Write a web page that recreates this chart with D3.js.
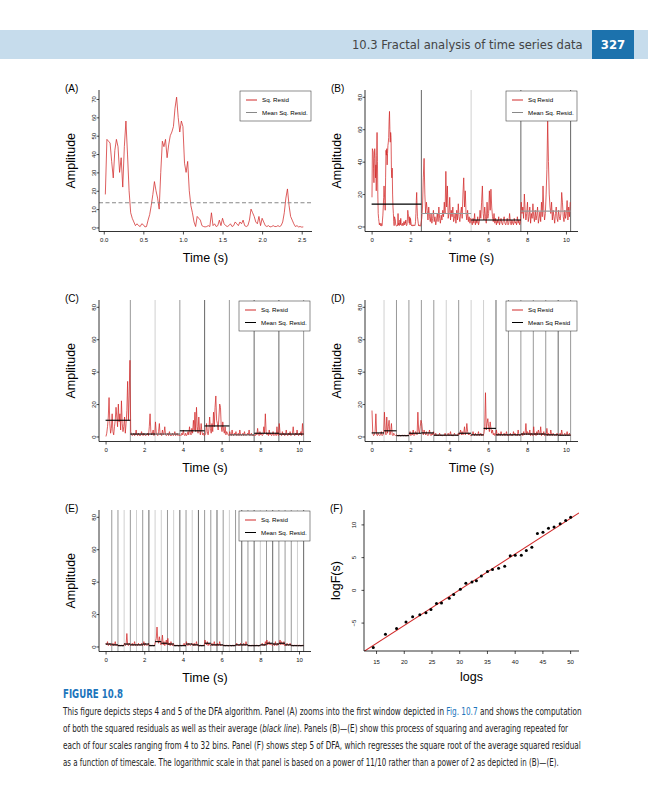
<!DOCTYPE html>
<html>
<head>
<meta charset="utf-8">
<script src="https://cdnjs.cloudflare.com/ajax/libs/d3/7.8.5/d3.min.js"></script>
<style>
  body { margin: 0; background: #fff; }
  svg { display: block; font-family: "Liberation Sans", Arial, sans-serif; }
</style>
</head>
<body>
<div id="page"></div>
<script>
// ---- data ----

// Panel A: squared residuals of the first window, 0.02 s steps from t = 0.02
var residA = [18,48,47,46,36,27,42,48,44,30,38,22,44,58,40,20,8,5,3,1,
  2,1,0.5,2,1.5,0.3,0.5,4,7,12,18,25,20,16,10,30,47,44,48,38,
  45,50,52,55,65,71,60,52,58,55,35,30,36,20,12,8,3,0.5,6,5,
  4,1,0.5,0.3,0.5,1,0.5,8,1,2,0.5,1,4,1,5,2,1,0.5,1,2,
  0.5,1,3,2,1,3,2,4,1,0.5,1,4,10,8,6,3,2,6,1,5,
  3,1,0.5,1,0.3,0.5,1,0.5,0.5,1,0.5,1,3,8,16,21,12,6,4,2,
  0.5,1,0.3,0.5,0.2,0.3];
var meanA = 13.5;

// Panel B: windows 2-4 (window 1 is residA), 0.04 s steps
var residB2 = [5,12,30,42,20,8,15,10,4,12,6,3,8,2,5,10,3,6,1,4,8,3,12,5,2,7,4,10,6,15,8,34,
  12,25,5,8,18,4,10,6,12,3,5,8,2,10,4,14,6,3,8,12,5,20,30,12,22,8,4,10,3,6,2,5];
var residB3 = [3,1,5,2,8,1,4,2,6,1,3,10,5,15,25,8,4,12,6,2,15,5,8,22,10,23,12,6,3,8,2,5,
  1,4,2,6,1,3,5,2,1,4,6,2,1,3,5,1,2,8,3,1,4,2,1,5,2,3,1,6,2,4,1,3];
var residB4 = [15,8,12,5,20,10,4,8,15,3,6,12,2,8,5,14,6,3,10,4,7,12,2,5,9,3,15,6,25,10,4,8,
  20,35,65,40,20,12,8,15,4,10,6,2,8,12,5,3,10,6,4,8,21,15,6,3,10,5,8,16,4,12,6,15];
var meansB = [13.8, 8, 4, 9.5];
var edgeColorsB = ["#666", "#d0d0d0", "#666", "#666"];
var meanColorsB = ["#000", "#999", "#000", "#999"];

// Panel C: 8 bins, 0.04 s steps
var residC = [0,2,6,12,24,8,2,5,14,3,1,6,10,18,12,6,20,9,14,4,22,8,3,6,12,2,8,16,34,10,25,47,
  3,1,0.5,1,2,0.5,1,4,1,0.5,2,1,0.3,1,3,1,0.5,2,1,0.5,1,1,2,0.5,6,14,3,1,2,4,0.5,1,
  9,2,1,0.5,3,8,1,2,0.5,4,1,2,6,1,0.5,1,2,0.5,3,1,0.3,1,2,0.5,1,3,0.5,1,2,0.5,1,0.5,
  1,0.5,2,1,4,1,0.5,2,0.5,1,3,1,6,2,1,5,2,10,4,15,3,18,6,2,12,4,1,8,3,1,2,0.5,
  1,2,8,3,1,4,12,5,2,8,3,15,6,18,25,10,8,4,12,20,18,6,3,9,4,2,6,1,3,2,1,0.5,
  3,1,0.5,4,1,0.5,2,1,3,0.5,1,2,0.5,4,1,0.5,1,2,0.5,3,1,0.5,1,2,1,4,0.5,1,2,0.5,1,0.5,
  1,0.5,2,1,5,1,0.5,3,1,2,0.5,1,6,2,14,3,1,2,0.5,4,1,2,0.5,1,3,0.5,1,2,0.5,6,1,0.5,
  8,2,1,0.5,3,1,2,0.5,1,4,1,0.5,2,1,3,0.5,1,2,6,1,0.5,2,1,4,1,0.5,2,1,3,0.5,8,1];
var meansC = [10, 1.5, 1.5, 3.5, 6.5, 1, 2, 1.5];
var edgeColorsC = ["#999", "#d0d0d0", "#999", "#666", "#999", "#666", "#666", "#999"];
var meanColorsC = ["#000", "#000", "#555", "#000", "#000", "#555", "#000", "#000"];

// Panel D: 16 bins, 0.04 s steps
var residD = [16,2,0.5,1,3,14,1,0.5,2,1,0.5,1,3,0.5,1,2,
  15,4,1,12,2,6,10,1,3,8,1,0.5,2,1,0.5,1,
  1,0.5,0.3,1,0.5,0.3,0.5,1,0.3,0.5,1,0.3,0.5,0.3,1,0.5,
  1,3,0.5,2,1,4,0.5,1,3,2,1,15,4,2,6,10,
  8,3,1,4,2,1,3,1,0.5,2,4,1,0.5,2,1,3,
  1,0.5,2,0.5,1,0.3,1,2,0.5,1,0.3,0.5,1,0.5,2,0.5,
  0.5,1,2,0.5,1,3,0.5,1,0.3,0.5,2,1,0.5,1,0.5,2,
  1,2,4,1,3,1,2,6,1,2,8,3,1,2,1,0.5,
  0.5,1,3,1,0.5,2,1,0.5,1,3,0.5,1,2,0.5,1,0.5,
  2,6,27,4,8,11,6,3,9,5,2,4,1,2,0.5,1,
  4,1,0.5,2,1,0.5,3,1,0.5,1,2,0.5,1,3,0.5,1,
  0.5,1,2,0.5,1,0.5,3,1,2,0.5,1,0.5,4,1,0.5,1,
  1,2,0.5,3,1,2,8,1,3,2,1,4,0.5,2,1,0.5,
  6,1,2,0.5,3,1,4,2,1,6,0.5,2,1,3,0.5,1,
  1,5,0.5,2,1,0.5,4,1,0.5,2,1,0.5,1,0.5,2,1,
  0.5,1,2,0.5,4,1,0.5,1,2,0.5,1,3,0.5,1,2,0.5];
var meansD = [2.2, 3.5, 0.5, 2, 2.2, 0.8, 0.8, 2, 1, 5, 1, 1, 1.5, 1.5, 1, 0.8];
var edgeColorsD = ["#d0d0d0","#999","#999","#999","#999","#d0d0d0","#999","#d0d0d0",
  "#d0d0d0","#666","#999","#999","#999","#999","#666","#999"];

// Panel E: 32 bins, 0.04 s steps
var residE = [2,1,3,0.5,1,2,0.5,1, 1,2,0.5,1,3,0.5,1,0.5, 0.5,1,0.3,0.5,1,0.3,0.5,1, 2,0.5,1,8,1,0.5,2,1,
  0.5,1,2,0.5,1,3,0.5,1, 1,0.5,2,1,0.5,1,2,0.5, 1,3,0.5,2,1,0.5,1,2, 0.5,1,0.3,0.5,1,0.5,0.3,1,
  3,5,12,4,2,6,3,1, 2,7,1,3,0.5,2,4,1, 5,1,2,0.5,3,1,0.5,2, 0.5,1,0.3,0.5,1,0.5,0.3,0.5,
  1,0.5,0.3,1,0.5,2,0.5,0.3, 3,1,0.5,2,1,0.5,1,2, 1,0.5,2,0.5,1,3,0.5,1, 0.5,0.3,1,0.5,0.3,0.5,1,0.5,
  4,2,1,3,0.5,2,1,0.5, 1,2,0.5,1,3,0.5,1,0.5, 2,0.5,1,3,0.5,1,0.5,1, 0.5,1,0.3,0.5,1,0.5,0.3,0.5,
  1,0.5,0.3,0.5,1,0.3,0.5,1, 0.5,2,1,0.5,1,0.5,2,1, 1,0.5,2,1,0.5,3,1,0.5, 0.5,1,0.3,0.5,0.3,1,0.5,0.3,
  1,0.5,0.3,1,0.5,0.3,0.5,1, 0.5,1,2,0.5,1,0.5,3,1, 4,1,2,3,1,2,1,0.5, 1,2,0.5,3,1,0.5,2,1,
  2,4,1,3,2,1,3,0.5, 1,0.5,2,1,0.5,1,2,0.5, 0.5,1,0.3,0.5,1,0.5,0.3,1, 0.5,0.3,1,0.5,0.3,0.5,1,0.5];
var meansE = [1.5,1,0.5,1.5,1,1,1.5,0.5,3,2,1.5,0.5,0.5,1.5,1,0.5,
  2,1,1,0.5,0.5,1,1,0.5,0.5,1,2,1.5,2,1,0.5,0.5];
var edgeColorsE = ["#999","#999","#d0d0d0","#999","#d0d0d0","#999","#666","#d0d0d0",
  "#d0d0d0","#999","#d0d0d0","#666","#999","#d0d0d0","#666","#999",
  "#999","#666","#999","#d0d0d0","#999","#666","#999","#666",
  "#d0d0d0","#999","#666","#999","#999","#999","#d0d0d0","#666"];

// Panel F: log scale vs log fluctuation
var logS = [14.5,16.7,18.7,20.4,21.6,22.9,24.0,24.9,25.9,26.8,28.2,29.0,30.2,31.2,32.3,33.1,34.0,
  35.1,36.0,37.1,38.2,39.2,40.1,41.2,42.1,43.1,44.1,45.1,46.1,47.1,48.2,49.2,50.1];
var logF = [-8.8,-6.8,-5.9,-4.9,-4.1,-3.8,-3.5,-3.0,-2.1,-2.0,-1.3,-0.7,0.1,1.0,1.2,1.4,2.1,
  2.8,3.1,3.3,3.6,5.2,5.3,5.3,6.0,6.5,8.6,8.8,9.4,9.6,10.1,10.6,11.1];

var ticksA = [0, 0.5, 1, 1.5, 2, 2.5];
var ticksAmpA = [0, 10, 20, 30, 40, 50, 60, 70];
var ticksTime = [0, 2, 4, 6, 8, 10];
var ticksAmp = [0, 20, 40, 60, 80];
var ticksLogS = [15, 20, 25, 30, 35, 40, 45, 50];
var ticksLogF = [-5, 0, 5, 10];

var caption = [
  [["This figure depicts steps 4 and 5 of the DFA algorithm. Panel (A) zooms into the first window depicted in ", ""], ["Fig. 10.7", "link"], [" and shows the computation", ""]],
  [["of both the squared residuals as well as their average (", ""], ["black line", "it"], ["). Panels (B)\u2014(E) show this process of squaring and averaging repeated for", ""]],
  [["each of four scales ranging from 4 to 32 bins. Panel (F) shows step 5 of DFA, which regresses the square root of the average squared residual", ""]],
  [["as a function of timescale. The logarithmic scale in that panel is based on a power of 11/10 rather than a power of 2 as depicted in (B)\u2014(E).", ""]]
];
var captionWidths = [520, 506, 519, 496];

// ---- drawing ----
var W = 648, H = 800;
var RED = "#d12a2a";
var NARROW = "'Liberation Sans Narrow', 'DejaVu Sans Condensed', 'Liberation Sans', sans-serif";

var svg = d3.select("#page").append("svg")
  .attr("width", W)
  .attr("height", H);

// squeeze a text horizontally (keeps its height) so it spans the target width
function squeeze(t, x0, y0, target) {
  var w = t.node().getComputedTextLength();
  var k = w > 0 ? target / w : 1;
  t.attr("x", 0).attr("y", 0)
    .attr("transform", "translate(" + x0 + "," + y0 + ") scale(" + k + ",1)");
}

// running header
svg.append("rect").attr("x", 0).attr("y", 30).attr("width", W).attr("height", 29).attr("fill", "#c6dcec");
svg.append("rect").attr("x", 592).attr("y", 30).attr("width", 42).attr("height", 29).attr("fill", "#1c72ad");
var head = svg.append("text")
  .attr("font-family", NARROW)
  .attr("font-size", 13)
  .attr("fill", "#444")
  .text("10.3  Fractal analysis of time series data");
squeeze(head, 352, 49, 231);
svg.append("text")
  .attr("x", 613).attr("y", 49)
  .attr("text-anchor", "middle")
  .attr("font-family", NARROW)
  .attr("font-weight", "bold")
  .attr("font-size", 13)
  .attr("fill", "#fff")
  .text("327");

function makeSeries(vals, t0, step) {
  return vals.map(function(v, i) { return {t: t0 + step * i, v: v}; });
}

function styleAxis(ga, size) {
  ga.attr("font-size", size).attr("font-family", "'Liberation Sans', Arial, sans-serif");
  ga.select(".domain").remove();
  ga.selectAll("line").attr("stroke", "#000").attr("stroke-width", 0.7);
  ga.selectAll("text").attr("fill", "#111");
}

function drawFrame(g, p, x, y, yLabel, xLabel, yOff, xPad) {
  // y axis, labels rotated like base R
  var ya = g.append("g")
    .attr("transform", "translate(" + p.left + ",0)")
    .call(d3.axisLeft(y).tickValues(p.yTicks).tickSize(2.5).tickFormat(p.yFmt || d3.format("")));
  styleAxis(ya, 6);
  ya.selectAll("text")
    .attr("transform", "rotate(-90)")
    .attr("x", 0).attr("y", -yOff).attr("dy", 0)
    .attr("text-anchor", "middle");

  var xa = g.append("g")
    .attr("transform", "translate(0," + (p.top + p.height) + ")")
    .call(d3.axisBottom(x).tickValues(p.xTicks).tickSize(3).tickPadding(xPad).tickFormat(p.xFmt || d3.format("")));
  styleAxis(xa, 6);

  // L shaped box
  g.append("path")
    .attr("d", "M" + p.left + "," + p.top + "V" + (p.top + p.height) + "H" + (p.left + p.width))
    .attr("fill", "none").attr("stroke", "#000").attr("stroke-width", 0.8);

  g.append("text")
    .attr("transform", "translate(" + (p.left - 28) + "," + (p.top + p.height / 2) + ") rotate(-90)")
    .attr("text-anchor", "middle")
    .attr("dy", "0.35em")
    .attr("font-size", 12.5)
    .text(yLabel);
  g.append("text")
    .attr("x", p.left + p.width / 2)
    .attr("y", p.top + p.height + 30)
    .attr("text-anchor", "middle")
    .attr("font-size", 12.5)
    .text(xLabel);
  g.append("text")
    .attr("x", p.left - 34)
    .attr("y", p.top + 2)
    .attr("font-size", 10)
    .text("(" + p.name + ")");
}

function drawLegend(g, p, labels, meanColor) {
  var lw = 71, lh = 30;
  var lx = p.left + p.width - lw - 1, ly = p.top + 1;
  var lg = g.append("g");
  lg.append("rect")
    .attr("x", lx).attr("y", ly).attr("width", lw).attr("height", lh)
    .attr("fill", "#fff").attr("stroke", "#444").attr("stroke-width", 0.6);
  var rows = [[labels[0], RED], [labels[1], meanColor]];
  rows.forEach(function(r, i) {
    var ry = ly + 9 + i * 12.5;
    lg.append("line")
      .attr("x1", lx + 6).attr("x2", lx + 17)
      .attr("y1", ry).attr("y2", ry)
      .attr("stroke", r[1]).attr("stroke-width", 1);
    lg.append("text")
      .attr("x", lx + 22).attr("y", ry)
      .attr("dy", "0.35em")
      .attr("font-size", 6.2)
      .text(r[0]);
  });
}

function timePanel(p) {
  var x = d3.scaleLinear().domain(p.xDomain).range([p.left, p.left + p.width]);
  var y = d3.scaleLinear().domain(p.yDomain).range([p.top + p.height, p.top]);
  var g = svg.append("g");

  var nb = p.means.length;
  var binLen = 10.24 / nb;
  var bins = d3.range(nb).map(function(i) { return [i * binLen, (i + 1) * binLen]; });

  if (p.edgeColors) {
    g.selectAll(".edge")
      .data(bins)
      .enter()
      .append("line")
      .attr("x1", d => x(d[1])).attr("x2", d => x(d[1]))
      .attr("y1", p.top).attr("y2", p.top + p.height)
      .attr("stroke", (d, i) => p.edgeColors[i])
      .attr("stroke-width", 1);
  }

  var line = d3.line().x(d => x(d.t)).y(d => y(d.v));
  g.append("path")
    .datum(p.series)
    .attr("d", line)
    .attr("fill", "none")
    .attr("stroke", RED)
    .attr("stroke-width", 0.75)
    .attr("stroke-linejoin", "round");

  if (p.dashedMean != null) {
    g.append("line")
      .attr("x1", p.left).attr("x2", p.left + p.width)
      .attr("y1", y(p.dashedMean)).attr("y2", y(p.dashedMean))
      .attr("stroke", "#888").attr("stroke-width", 1.1)
      .attr("stroke-dasharray", "4,2.5");
  } else {
    g.selectAll(".mean")
      .data(bins)
      .enter()
      .append("line")
      .attr("x1", d => x(d[0])).attr("x2", d => x(d[1]))
      .attr("y1", (d, i) => y(p.means[i])).attr("y2", (d, i) => y(p.means[i]))
      .attr("stroke", (d, i) => p.meanColors ? p.meanColors[i] : "#000")
      .attr("stroke-width", 1.1);
  }

  drawLegend(g, p, p.legend, p.legendMean);
  drawFrame(g, p, x, y, "Amplitude", "Time (s)", 3.5, 3);
}

var LEFT = 99, RIGHT = 365, PW = 212, PH = 141.5;
var ROW = [90, 300, 510];
var timeDom = [-0.34, 10.62], ampDom = [-3.1, 84.2];

timePanel({
  name: "A", left: LEFT, top: ROW[0], width: PW + 1, height: PH,
  xDomain: [-0.06, 2.63], yDomain: [-2.2, 74.9],
  xTicks: ticksA, yTicks: ticksAmpA, xFmt: d3.format(".1f"),
  series: makeSeries(residA, 0.02, 0.02),
  means: [meanA], dashedMean: meanA,
  legend: ["Sq. Resid", "Mean Sq. Resid."], legendMean: "#888"
});

timePanel({
  name: "B", left: RIGHT, top: ROW[0], width: PW + 1, height: PH,
  xDomain: timeDom, yDomain: ampDom, xTicks: ticksTime, yTicks: ticksAmp,
  series: makeSeries(residA, 0.02, 0.02).concat(makeSeries(residB2.concat(residB3, residB4), 2.58, 0.04)),
  means: meansB, meanColors: meanColorsB, edgeColors: edgeColorsB,
  legend: ["Sq Resid", "Mean Sq. Resid."], legendMean: "#888"
});

timePanel({
  name: "C", left: LEFT, top: ROW[1], width: PW, height: PH,
  xDomain: timeDom, yDomain: ampDom, xTicks: ticksTime, yTicks: ticksAmp,
  series: makeSeries(residC, 0.02, 0.04),
  means: meansC, meanColors: meanColorsC, edgeColors: edgeColorsC,
  legend: ["Sq. Resid", "Mean Sq. Resid."], legendMean: "#000"
});

timePanel({
  name: "D", left: RIGHT, top: ROW[1], width: PW + 1, height: PH,
  xDomain: timeDom, yDomain: ampDom, xTicks: ticksTime, yTicks: ticksAmp,
  series: makeSeries(residD, 0.02, 0.04),
  means: meansD, edgeColors: edgeColorsD,
  legend: ["Sq Resid", "Mean Sq Resid"], legendMean: "#000"
});

timePanel({
  name: "E", left: LEFT, top: ROW[2], width: PW, height: PH,
  xDomain: timeDom, yDomain: ampDom, xTicks: ticksTime, yTicks: ticksAmp,
  series: makeSeries(residE, 0.02, 0.04),
  means: meansE, edgeColors: edgeColorsE,
  legend: ["Sq. Resid", "Mean Sq. Resid."], legendMean: "#000"
});

// Panel F: regression of log F(s) on log s
function drawF() {
  var p = {name: "F", left: RIGHT - 1, top: ROW[2], width: 215, height: 141,
    xTicks: ticksLogS, yTicks: ticksLogF, yFmt: d3.format("")};
  var x = d3.scaleLinear().domain([12.83, 51.6]).range([p.left, p.left + p.width]);
  var y = d3.scaleLinear().domain([-9.34, 12.2]).range([p.top + p.height, p.top]);
  var g = svg.append("g");

  g.append("clipPath").attr("id", "clipF")
    .append("rect")
    .attr("x", p.left).attr("y", p.top).attr("width", p.width).attr("height", p.height);

  var pts = logS.map(function(s, i) { return {s: s, f: logF[i]}; });
  var mx = d3.mean(pts, d => d.s), my = d3.mean(pts, d => d.f);
  var slope = d3.sum(pts, d => (d.s - mx) * (d.f - my)) / d3.sum(pts, d => (d.s - mx) * (d.s - mx));
  var icpt = my - slope * mx;
  var xd = x.domain();

  g.append("line")
    .attr("clip-path", "url(#clipF)")
    .attr("x1", x(xd[0])).attr("y1", y(icpt + slope * xd[0]))
    .attr("x2", x(xd[1])).attr("y2", y(icpt + slope * xd[1]))
    .attr("stroke", RED).attr("stroke-width", 1.1);

  g.selectAll("circle")
    .data(pts)
    .enter()
    .append("circle")
    .attr("cx", d => x(d.s))
    .attr("cy", d => y(d.f))
    .attr("r", 1.5)
    .attr("fill", "#000");

  drawFrame(g, p, x, y, "logF(s)", "logs", 8, 6);
}
drawF();

// caption
var figTitle = svg.append("text")
  .attr("font-family", NARROW)
  .attr("font-weight", "bold")
  .attr("font-size", 12)
  .attr("fill", "#1c75bc")
  .text("FIGURE 10.8");
squeeze(figTitle, 63, 698, 60);

caption.forEach(function(parts, i) {
  var t = svg.append("text")
    .attr("font-family", NARROW)
    .attr("font-size", 10.5)
    .attr("fill", "#222");
  parts.forEach(function(pt) {
    var ts = t.append("tspan").text(pt[0]);
    if (pt[1] === "it") ts.attr("font-style", "italic");
    if (pt[1] === "link") ts.attr("fill", "#1c75bc");
  });
  squeeze(t, 63, 715 + i * 17, captionWidths[i]);
});
</script>
</body>
</html>
